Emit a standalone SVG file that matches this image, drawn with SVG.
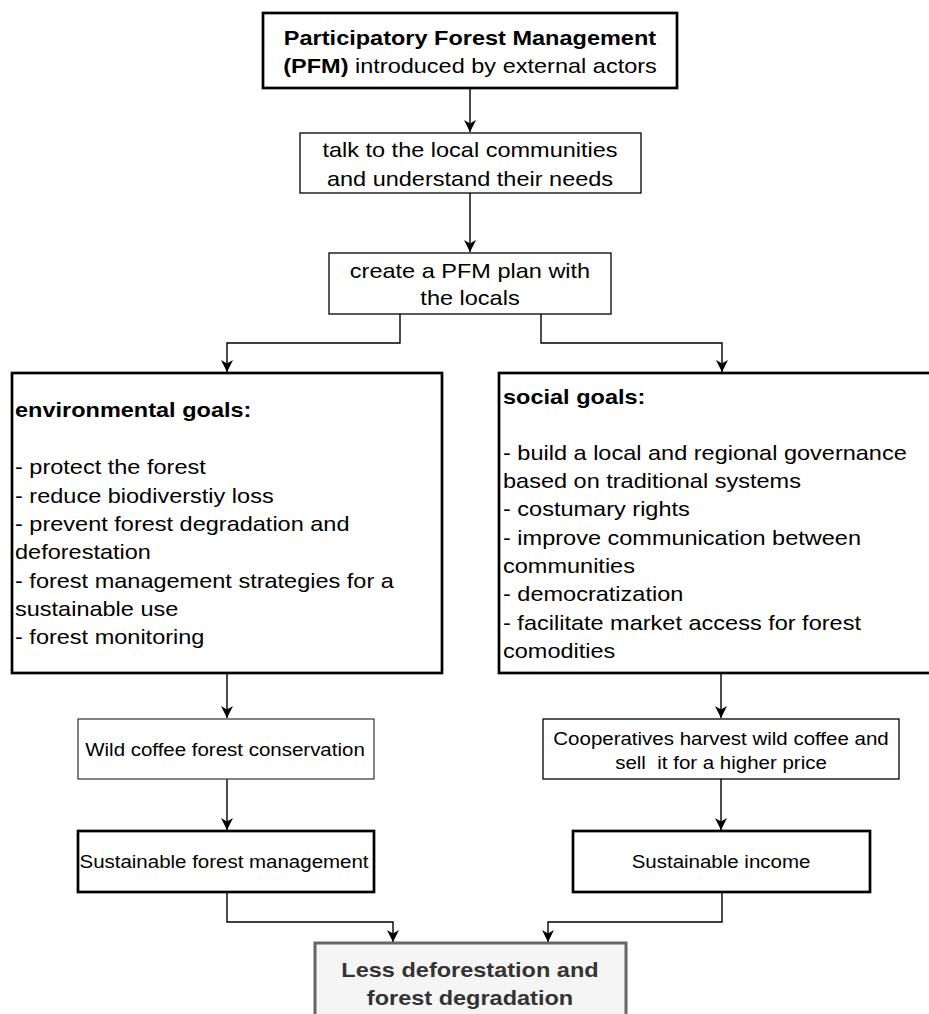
<svg xmlns="http://www.w3.org/2000/svg" width="929" height="1014" viewBox="0 0 929 1014">
  <style>
    text { font-family: "Liberation Sans", Arial, Helvetica, sans-serif; fill: #000; }
    .big { font-size: 21px; }
    .small { font-size: 18.3px; }
    .b { font-weight: bold; }
    .mid { text-anchor: middle; }
    .thick { fill: #fff; stroke: #000; stroke-width: 2.7; }
    .thin { fill: #fff; stroke: #000; stroke-width: 1.3; }
    .thin2 { fill: #fff; stroke: #333; stroke-width: 1.2; }
    .final { fill: #f5f5f5; stroke: #666; stroke-width: 3; }
    .ftext { fill: #333; }
    .conn path { fill: none; stroke: #000; stroke-width: 1.4; marker-end: url(#arrow); }
  </style>
  <defs>
    <marker id="arrow" markerUnits="userSpaceOnUse" markerWidth="13" markerHeight="13" refX="12" refY="6" orient="auto">
      <path d="M0,0 L12,6 L0,12 L3.5,6 Z" fill="#000" stroke="none"/>
    </marker>
  </defs>
  <rect width="929" height="1014" fill="#fff"/>

  <g id="connectors" class="conn">
    <path d="M470,88 V132"/>
    <path d="M470,193 V252"/>
    <path d="M400,314 V343 H227 V372"/>
    <path d="M541,314 V343 H722 V372"/>
    <path d="M227,673 V718"/>
    <path d="M227,779 V830"/>
    <path d="M721,673 V718"/>
    <path d="M721,779 V830"/>
    <path d="M227,892 V922 H393 V942"/>
    <path d="M722,892 V922 H548 V942"/>
  </g>

  <g id="pfm">
    <rect class="thick" x="263" y="13" width="414" height="75"/>
    <g transform="translate(470 0) scale(1.12 1)">
      <text class="big mid b" x="0" y="45">Participatory Forest Management</text>
      <text class="big mid" x="0" y="73"><tspan class="b">(PFM)</tspan> introduced by external actors</text>
    </g>
  </g>

  <g id="talk">
    <rect class="thin" x="300" y="133" width="341" height="60"/>
    <g transform="translate(470 0) scale(1.12 1)">
      <text class="big mid" x="0" y="157.5">talk to the local communities</text>
      <text class="big mid" x="0" y="186">and understand their needs</text>
    </g>
  </g>

  <g id="plan">
    <rect class="thin" x="329" y="253" width="282" height="61"/>
    <g transform="translate(470 0) scale(1.12 1)">
      <text class="big mid" x="0" y="278">create a PFM plan with</text>
      <text class="big mid" x="0" y="305">the locals</text>
    </g>
  </g>

  <g id="env">
    <rect class="thick" x="12" y="373" width="430" height="300"/>
    <g transform="translate(15 0) scale(1.12 1)">
      <text class="big b" x="0" y="417">environmental goals:</text>
      <text class="big" x="0" y="474.5">- protect the forest</text>
      <text class="big" x="0" y="503">- reduce biodiverstiy loss</text>
      <text class="big" x="0" y="531">- prevent forest degradation and</text>
      <text class="big" x="0" y="559.5">deforestation</text>
      <text class="big" x="0" y="588">- forest management strategies for a</text>
      <text class="big" x="0" y="616">sustainable use</text>
      <text class="big" x="0" y="644.5">- forest monitoring</text>
    </g>
  </g>

  <g id="social">
    <rect class="thick" x="499" y="373" width="432" height="300"/>
    <g transform="translate(503 0) scale(1.12 1)">
      <text class="big b" x="0" y="404.5">social goals:</text>
      <text class="big" x="0" y="460">- build a local and regional governance</text>
      <text class="big" x="0" y="488.5">based on traditional systems</text>
      <text class="big" x="0" y="516.5">- costumary rights</text>
      <text class="big" x="0" y="545">- improve communication between</text>
      <text class="big" x="0" y="573.5">communities</text>
      <text class="big" x="0" y="601.5">- democratization</text>
      <text class="big" x="0" y="630">- facilitate market access for forest</text>
      <text class="big" x="0" y="658.5">comodities</text>
    </g>
  </g>

  <g id="wild">
    <rect class="thin2" x="78" y="719" width="296" height="60"/>
    <g transform="translate(225 0) scale(1.12 1)">
      <text class="small mid" x="0" y="756.5">Wild coffee forest conservation</text>
    </g>
  </g>

  <g id="sfm">
    <rect class="thick" x="78" y="831" width="296" height="61"/>
    <g transform="translate(224 0) scale(1.12 1)">
      <text class="small mid" x="0" y="868">Sustainable forest management</text>
    </g>
  </g>

  <g id="coop">
    <rect class="thin" x="543" y="719" width="356" height="60"/>
    <g transform="translate(721 0) scale(1.12 1)">
      <text class="small mid" x="0" y="745">Cooperatives harvest wild coffee and</text>
      <text class="small mid" x="0" y="769" xml:space="preserve">sell  it for a higher price</text>
    </g>
  </g>

  <g id="income">
    <rect class="thick" x="573" y="831" width="297" height="61"/>
    <g transform="translate(721 0) scale(1.12 1)">
      <text class="small mid" x="0" y="868">Sustainable income</text>
    </g>
  </g>

  <g id="outcome">
    <rect class="final" x="315" y="943" width="311" height="90"/>
    <g transform="translate(470 0) scale(1.12 1)">
      <text class="big mid b ftext" x="0" y="977">Less deforestation and</text>
      <text class="big mid b ftext" x="0" y="1005">forest degradation</text>
    </g>
  </g>
</svg>
